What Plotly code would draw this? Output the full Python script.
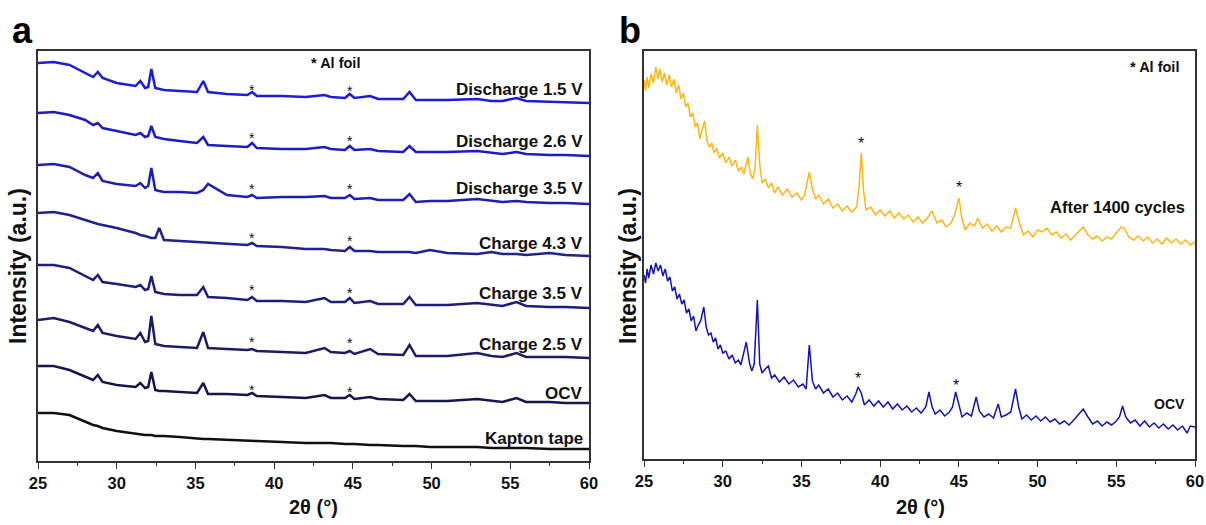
import plotly.graph_objects as go

# ---------------- Panel a data (2θ grid shared by all stacked patterns) ----------------
XA = [25.0, 26.0, 27.0, 28.0, 28.5, 28.8, 29.1, 30.0, 31.2, 31.5, 31.8, 32.0, 32.2, 32.45, 32.7,
      33.0, 34.0, 35.1, 35.5, 35.8, 37.0, 38.3, 38.6, 38.9, 40.5, 42.0, 43.2, 43.6, 44.5, 44.8,
      45.1, 46.1, 46.6, 48.2, 48.6, 49.0, 49.9, 51.0, 52.9, 53.8, 54.5, 55.4, 56.0, 57.5, 58.5, 60.0]

A_NAMES = ["Discharge 1.5 V", "Discharge 2.6 V", "Discharge 3.5 V", "Charge 4.3 V",
           "Charge 3.5 V", "Charge 2.5 V", "OCV", "Kapton tape"]

A_Y = [
    [398,399,396,388,384,389,383,378,375,380,373,374,392,373,372,371,370,369,380,369,367,366,369,365,365,364,366,364,363,367,363,365,362,362,369,361,361,361,362,360,360,363,360,359,359,358],
    [348,349,346,341,336,338,333,330,326,328,324,325,335,324,323,322,320,318,324,316,315,314,318,313,312,312,314,312,311,315,311,312,310,309,315,309,309,309,310,308,307,309,307,306,306,305],
    [296,297,294,286,283,288,280,277,275,278,273,275,293,271,270,269,269,268,271,277,266,264,266,263,264,264,265,263,263,266,262,263,261,261,267,259,260,260,262,260,259,260,259,258,258,257],
    [248,249,246,241,238,237,236,233,228,226,225,224,223,223,233,221,220,219,219,218,217,216,218,215,214,212,212,211,210,214,210,210,209,209,209,208,211,208,207,209,207,207,206,208,206,205],
    [196,196,193,185,181,186,179,177,174,176,171,172,185,169,168,167,166,166,174,164,163,161,164,160,160,159,163,159,159,163,158,160,157,157,164,156,156,156,158,156,155,159,155,154,154,153],
    [141,143,139,133,130,136,128,125,122,128,119,120,145,117,116,115,114,113,129,113,112,111,112,110,109,108,113,109,108,110,107,112,107,106,116,105,105,105,108,105,104,108,104,104,104,103],
    [95,95,91,84,81,86,79,76,74,78,73,74,89,71,70,70,69,68,78,67,67,66,68,65,64,63,66,63,63,66,62,64,62,61,67,60,60,60,62,60,59,63,59,59,58,58],
    [48,48,46,39,36,35,33,30,27,27,26,26,26,25,25,25,24,22,22,22,21,20,20,20,19,18,18,18,17,17,17,16,16,15,15,15,14,14,14,13,13,13,13,12,12,12],
]
A_COLORS = ["#1c1cdc", "#1c1cc6", "#1e1eb2", "#202090", "#1e1e7a", "#1c1c66", "#16164c", "#101010"]
A_LABEL_Y = [372, 320, 273, 218, 168, 117, 68, 23]

A_STAR_X = [38.6, 44.8]
A_STAR_Y = [[371, 370], [323, 320], [272, 272], [223, 220], [171, 168], [119, 118], [71, 69]]

# ---------------- Panel b data (read point by point, including visible noise) ----------------
B_CYC_X = [25.0, 25.1, 25.2, 25.3, 25.45, 25.6, 25.75, 25.9, 26.0, 26.15, 26.3, 26.45, 26.6, 26.75,
           26.9, 27.05, 27.2, 27.35, 27.5, 27.65, 27.8, 27.95, 28.1, 28.25, 28.4, 28.55, 28.7, 28.85,
           29.0, 29.15, 29.3, 29.45, 29.6, 29.8, 30.0, 30.2, 30.4, 30.6, 30.8, 31.0, 31.2, 31.35,
           31.6, 31.75, 31.9, 32.05, 32.2, 32.35, 32.5, 32.7, 32.9, 33.1, 33.3, 33.5, 33.8, 34.1,
           34.4, 34.7, 35.0, 35.2, 35.5, 35.7, 35.9, 36.1, 36.4, 36.7, 37.0, 37.3, 37.6, 37.9,
           38.2, 38.5, 38.65, 38.8, 38.95, 39.1, 39.4, 39.7, 40.0, 40.3, 40.6, 40.9, 41.2, 41.5,
           41.8, 42.1, 42.4, 42.7, 43.0, 43.3, 43.6, 43.9, 44.2, 44.5, 44.75, 45.0, 45.2, 45.4,
           45.7, 46.0, 46.2, 46.5, 46.8, 47.1, 47.4, 47.7, 48.0, 48.3, 48.6, 48.85, 49.1, 49.4,
           49.7, 50.0, 50.3, 50.6, 50.9, 51.2, 51.5, 51.8, 52.1, 52.4, 52.7, 52.9, 53.2, 53.5,
           53.8, 54.1, 54.4, 54.7, 55.0, 55.3, 55.5, 55.8, 56.1, 56.4, 56.7, 57.0, 57.3, 57.6,
           57.9, 58.2, 58.5, 58.8, 59.1, 59.4, 59.7, 60.0]
B_CYC_Y = [379, 368, 382, 371, 385, 376, 392, 380, 390, 377, 386, 374, 384, 372,
           380, 366, 374, 360, 366, 352, 356, 342, 346, 332, 336, 320, 330, 338,
           318, 312, 316, 306, 311, 301, 306, 296, 302, 293, 299, 288, 292, 285,
           302, 286, 280, 290, 334, 295, 276, 280, 271, 276, 266, 272, 264, 270,
           262, 266, 259, 264, 287, 270, 260, 264, 255, 260, 251, 255, 248, 253,
           247, 252, 270, 306, 268, 249, 252, 244, 249, 243, 248, 241, 246, 240,
           244, 237, 242, 236, 241, 248, 236, 239, 232, 236, 245, 261, 240, 229,
           236, 233, 241, 231, 235, 228, 233, 227, 232, 231, 251, 236, 224, 228,
           222, 229, 227, 231, 224, 227, 221, 225, 219, 224, 229, 232, 224, 220,
           223, 218, 222, 220, 226, 232, 231, 222, 219, 223, 218, 222, 216, 220,
           215, 221, 216, 220, 215, 219, 214, 217]

B_OCV_X = [25.0, 25.1, 25.2, 25.3, 25.45, 25.6, 25.75, 25.9, 26.05, 26.2, 26.35, 26.5, 26.65, 26.8,
           26.95, 27.1, 27.25, 27.4, 27.55, 27.7, 27.85, 28.0, 28.15, 28.3, 28.45, 28.6, 28.8, 28.95,
           29.1, 29.25, 29.4, 29.55, 29.7, 29.85, 30.0, 30.2, 30.4, 30.6, 30.8, 31.0, 31.15, 31.5,
           31.7, 31.85, 32.0, 32.2, 32.35, 32.5, 32.7, 32.9, 33.1, 33.3, 33.6, 33.9, 34.2, 34.5,
           34.8, 35.1, 35.3, 35.5, 35.7, 35.9, 36.1, 36.4, 36.7, 37.0, 37.3, 37.6, 37.9, 38.2,
           38.45, 38.6, 38.8, 39.0, 39.3, 39.6, 39.9, 40.2, 40.5, 40.8, 41.1, 41.4, 41.7, 42.0,
           42.3, 42.6, 42.9, 43.1, 43.3, 43.5, 43.8, 44.1, 44.4, 44.6, 44.8, 45.0, 45.2, 45.5,
           45.8, 46.1, 46.3, 46.6, 46.9, 47.2, 47.5, 47.7, 48.0, 48.3, 48.6, 48.8, 49.0, 49.3,
           49.6, 49.9, 50.2, 50.5, 50.8, 51.1, 51.4, 51.7, 52.0, 52.3, 52.6, 52.9, 53.2, 53.5,
           53.8, 54.1, 54.4, 54.7, 55.0, 55.2, 55.4, 55.6, 55.9, 56.2, 56.5, 56.8, 57.1, 57.4,
           57.7, 58.0, 58.3, 58.6, 58.9, 59.2, 59.5, 59.7, 60.0]
B_OCV_Y = [184, 176, 190, 181, 194, 185, 196, 188, 194, 183, 190, 178, 182, 168,
           172, 160, 165, 155, 159, 146, 150, 138, 143, 128, 134, 138, 152, 132,
           124, 126, 117, 121, 110, 114, 106, 108, 100, 104, 96, 99, 94, 117,
           96, 88, 95, 159, 95, 86, 90, 93, 81, 84, 77, 82, 75, 79,
           72, 75, 70, 114, 78, 70, 74, 66, 70, 62, 66, 59, 63, 57,
           65, 72, 66, 54, 59, 53, 58, 52, 57, 50, 55, 49, 53, 47,
           51, 46, 52, 67, 52, 45, 49, 43, 47, 52, 67, 53, 42, 46,
           43, 62, 48, 42, 45, 41, 55, 42, 44, 47, 70, 52, 40, 44,
           39, 43, 38, 42, 37, 40, 35, 38, 34, 39, 45, 50, 42, 35,
           38, 33, 37, 34, 38, 42, 53, 42, 36, 39, 33, 38, 32, 36,
           31, 35, 30, 34, 29, 33, 26, 33, 32]

B_NAMES = ["After 1400 cycles", "OCV"]
B_COLORS = ["#fdb614", "#1414b4"]
B_LABEL_Y = [252, 55]
B_LABEL_SIZE = [16.5, 14]
B_STAR_X = [[38.8, 45.0], [38.6, 44.8]]
B_STAR_Y = [[316, 272], [81, 74]]

SANS = "Liberation Sans, Arial, sans-serif"
TICK_FONT = dict(family=SANS, size=16.5, color="#111", weight="bold")
LAB_FONT = dict(family=SANS, size=17, color="#111")
TITLE_FONT = dict(family=SANS, size=20, color="#111")
YTITLE_FONT = dict(family=SANS, size=23, color="#111")

fig = go.Figure()

for name, ys, col in zip(A_NAMES, A_Y, A_COLORS):
    fig.add_trace(go.Scatter(x=XA, y=ys, mode="lines", name=name,
                             line=dict(color=col, width=2.5), xaxis="x", yaxis="y"))

fig.add_trace(go.Scatter(x=B_CYC_X, y=B_CYC_Y, mode="lines", name=B_NAMES[0],
                         line=dict(color=B_COLORS[0], width=1.5), xaxis="x2", yaxis="y2"))
fig.add_trace(go.Scatter(x=B_OCV_X, y=B_OCV_Y, mode="lines", name=B_NAMES[1],
                         line=dict(color=B_COLORS[1], width=1.5), xaxis="x2", yaxis="y2"))

ann = []
for name, ly in zip(A_NAMES, A_LABEL_Y):
    ann.append(dict(x=59.75, y=ly, xref="x", yref="y", text="<b>%s</b>" % name, showarrow=False,
                    xanchor="right", yanchor="middle", font=LAB_FONT))
for sy in A_STAR_Y:
    for sx, syy in zip(A_STAR_X, sy):
        ann.append(dict(x=sx, y=syy, xref="x", yref="y", text="*", showarrow=False,
                        xanchor="center", yanchor="middle", font=dict(family=SANS, size=14, color="#111")))
ann.append(dict(x=43.9, y=398, xref="x", yref="y", text="<b>* Al foil</b>", showarrow=False,
                xanchor="center", yanchor="middle", font=dict(family=SANS, size=14.5, color="#111")))

for name, ly, sz in zip(B_NAMES, B_LABEL_Y, B_LABEL_SIZE):
    ann.append(dict(x=59.5, y=ly, xref="x2", yref="y2", text="<b>%s</b>" % name, showarrow=False,
                    xanchor="right", yanchor="middle", font=dict(family=SANS, size=sz, color="#111")))
for sxs, sys_ in zip(B_STAR_X, B_STAR_Y):
    for sx, sy in zip(sxs, sys_):
        ann.append(dict(x=sx, y=sy, xref="x2", yref="y2", text="*", showarrow=False,
                        xanchor="center", yanchor="middle", font=dict(family=SANS, size=16, color="#111")))
ann.append(dict(x=59.1, y=392, xref="x2", yref="y2", text="<b>* Al foil</b>", showarrow=False,
                xanchor="right", yanchor="middle", font=dict(family=SANS, size=14.5, color="#111")))

# panel letters and axis titles
ann.append(dict(x=22 / 1206, y=1 - 31 / 525, xref="paper", yref="paper", text="<b>a</b>", showarrow=False,
                xanchor="center", yanchor="middle", font=dict(family=SANS, size=36, color="#000")))
ann.append(dict(x=630 / 1206, y=1 - 31 / 525, xref="paper", yref="paper", text="<b>b</b>", showarrow=False,
                xanchor="center", yanchor="middle", font=dict(family=SANS, size=36, color="#000")))
for px, title in [(18, "Intensity (a.u.)"), (628, "Intensity (a.u.)")]:
    ann.append(dict(x=px / 1206, y=1 - 266 / 525, xref="paper", yref="paper", text="<b>%s</b>" % title,
                    showarrow=False, textangle=-90, xanchor="center", yanchor="middle", font=YTITLE_FONT))
for px in [313, 920]:
    ann.append(dict(x=px / 1206, y=1 - 507 / 525, xref="paper", yref="paper", text="<b>2θ (°)</b>",
                    showarrow=False, xanchor="center", yanchor="middle", font=TITLE_FONT))

xcommon = dict(range=[25, 60], tick0=25, dtick=5, ticks="outside", ticklen=6, tickwidth=1.3,
               tickcolor="#333", showline=True, linecolor="#333", linewidth=1.5, mirror=True,
               showgrid=False, zeroline=False, tickfont=TICK_FONT, automargin=False,
               minor=dict(dtick=2.5, ticks="outside", ticklen=3, tickwidth=1.2, tickcolor="#333"))
ycommon = dict(showticklabels=False, ticks="", showline=True, linecolor="#333", linewidth=1.5,
               mirror=True, showgrid=False, zeroline=False, automargin=False)

fig.update_layout(
    width=1206, height=525, autosize=False,
    margin=dict(l=0, r=0, t=0, b=0, autoexpand=False),
    paper_bgcolor="white", plot_bgcolor="white",
    showlegend=False,
    xaxis=dict(domain=[38 / 1206, 589 / 1206], anchor="y", **xcommon),
    yaxis=dict(domain=[1 - 461 / 525, 1 - 51 / 525], range=[0, 410], anchor="x", **ycommon),
    xaxis2=dict(domain=[644 / 1206, 1195 / 1206], anchor="y2", **xcommon),
    yaxis2=dict(domain=[1 - 459 / 525, 1 - 51 / 525], range=[0, 408], anchor="x2", **ycommon),
    annotations=ann,
)

fig.write_html(
    "out.html",
    config={"responsive": False, "displayModeBar": False},
    post_script="document.body.style.margin='0';document.body.style.overflow='hidden';",
)
